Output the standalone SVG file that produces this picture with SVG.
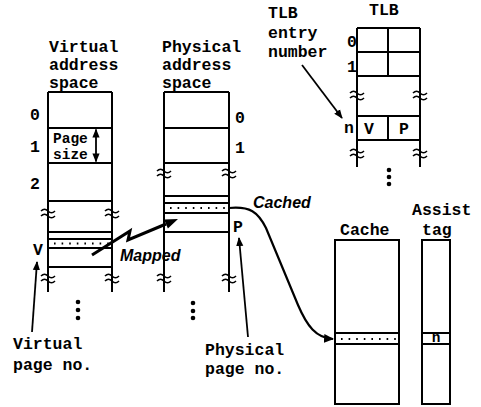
<svg xmlns="http://www.w3.org/2000/svg" width="481" height="407" viewBox="0 0 481 407">
<style>
.bx{fill:none;stroke:#000;stroke-width:2}
.t{font-family:"Liberation Mono","Courier New",monospace;font-size:16.5px;font-weight:bold;fill:#000}
.s{font-size:14.5px}
.it{font-family:"Liberation Sans",Arial,sans-serif;font-size:16px;font-weight:bold;font-style:italic;fill:#000}
.dots{stroke:#000;stroke-width:2;stroke-dasharray:1.6 6;fill:none}
.sq{fill:none;stroke:#000;stroke-width:1.6}
.ar{fill:none;stroke:#000;stroke-width:1.8}
</style>
<defs>
<path id="sq" class="sq" d="M-7,-2 q3.5,-3.5 7,0 t7,0 M-7,3 q3.5,-3.5 7,0 t7,0"/>
<marker id="ah" viewBox="0 0 10 10" refX="9" refY="5" markerWidth="5" markerHeight="5" orient="auto-start-reverse" markerUnits="strokeWidth">
<path d="M0,1 L10,5 L0,9 z" fill="#000"/>
</marker>
<marker id="ahb" viewBox="0 0 10 10" refX="9" refY="5" markerWidth="4.5" markerHeight="4.5" orient="auto" markerUnits="strokeWidth">
<path d="M0,0.5 L10,5 L0,9.5 z" fill="#000"/>
</marker>
</defs>

<g id="virtual-space">
<text class="t" x="49" y="52">Virtual</text>
<text class="t" x="49" y="70">address</text>
<text class="t" x="49" y="88">space</text>
<line class="bx" x1="48" y1="92" x2="48" y2="292"/>
<line class="bx" x1="112" y1="92" x2="112" y2="292"/>
<line class="bx" x1="48" y1="92" x2="112" y2="92"/>
<line class="bx" x1="48" y1="128" x2="112" y2="128"/>
<line class="bx" x1="48" y1="163" x2="112" y2="163"/>
<line class="bx" x1="48" y1="201" x2="112" y2="201"/>
<line class="bx" x1="48" y1="232" x2="112" y2="232"/>
<line class="bx" x1="48" y1="239" x2="112" y2="239"/>
<line class="dots" x1="54" y1="243.5" x2="110" y2="243.5"/>
<line class="bx" x1="48" y1="248" x2="112" y2="248"/>
<line class="bx" x1="48" y1="267" x2="112" y2="267"/>
<use href="#sq" x="48" y="213"/><use href="#sq" x="112" y="213"/>
<use href="#sq" x="48" y="278"/><use href="#sq" x="112" y="278"/>
<text class="t" x="30" y="120">0</text>
<text class="t" x="30" y="152">1</text>
<text class="t" x="30" y="189">2</text>
<text class="t" x="33" y="255">V</text>
<text class="t s" x="53" y="143">Page</text>
<text class="t s" x="53" y="159">size</text>
<circle cx="78" cy="302" r="2.3"/><circle cx="78" cy="310" r="2.3"/><circle cx="78" cy="318" r="2.3"/>
</g>

<g id="physical-space">
<text class="t" x="162" y="52">Physical</text>
<text class="t" x="162" y="70">address</text>
<text class="t" x="162" y="88">space</text>
<line class="bx" x1="164" y1="92" x2="164" y2="292"/>
<line class="bx" x1="229" y1="92" x2="229" y2="292"/>
<line class="bx" x1="164" y1="92" x2="229" y2="92"/>
<line class="bx" x1="164" y1="128" x2="229" y2="128"/>
<line class="bx" x1="164" y1="163" x2="229" y2="163"/>
<line class="bx" x1="164" y1="196" x2="229" y2="196"/>
<line class="bx" x1="164" y1="203" x2="229" y2="203"/>
<line class="dots" x1="170" y1="208" x2="227" y2="208"/>
<line class="bx" x1="164" y1="213" x2="229" y2="213"/>
<line class="bx" x1="164" y1="232" x2="229" y2="232"/>
<use href="#sq" x="164" y="173"/><use href="#sq" x="229" y="173"/>
<use href="#sq" x="164" y="278"/><use href="#sq" x="229" y="278"/>
<text class="t" x="235" y="123">0</text>
<text class="t" x="235" y="153">1</text>
<text class="t" x="233" y="232">P</text>
<circle cx="193" cy="303" r="2.3"/><circle cx="193" cy="311" r="2.3"/><circle cx="193" cy="318" r="2.3"/>
</g>

<g id="tlb">
<text class="t" x="369" y="15">TLB</text>
<line class="bx" x1="357" y1="28" x2="357" y2="167"/>
<line class="bx" x1="420" y1="28" x2="420" y2="167"/>
<line class="bx" x1="357" y1="28" x2="420" y2="28"/>
<line class="bx" x1="357" y1="52" x2="420" y2="52"/>
<line class="bx" x1="357" y1="76" x2="420" y2="76"/>
<line class="bx" x1="388" y1="28" x2="388" y2="76"/>
<line class="bx" x1="357" y1="116" x2="420" y2="116"/>
<line class="bx" x1="357" y1="140" x2="420" y2="140"/>
<line class="bx" x1="388" y1="116" x2="388" y2="140"/>
<use href="#sq" x="357" y="95"/><use href="#sq" x="420" y="95"/>
<use href="#sq" x="357" y="153"/><use href="#sq" x="420" y="153"/>
<text class="t" x="347" y="47">0</text>
<text class="t" x="347" y="72">1</text>
<text class="t" x="344" y="133">n</text>
<text class="t" x="369" y="134" text-anchor="middle">V</text>
<text class="t" x="404" y="134" text-anchor="middle">P</text>
<circle cx="389" cy="170" r="2.3"/><circle cx="389" cy="177" r="2.3"/><circle cx="389" cy="184" r="2.3"/>
</g>

<g id="tlb-entry-label">
<text class="t" x="268" y="18">TLB</text>
<text class="t" x="268" y="38">entry</text>
<text class="t" x="268" y="57">number</text>
</g>

<g id="cache">
<text class="t" x="340" y="235">Cache</text>
<rect class="bx" x="335" y="240" width="64" height="164"/>
<line class="bx" x1="335" y1="333" x2="399" y2="333"/>
<line class="bx" x1="335" y1="344" x2="399" y2="344"/>
<line class="dots" x1="341" y1="339" x2="397" y2="339"/>
</g>

<g id="assist-tag">
<text class="t" x="412" y="215">Assist</text>
<text class="t" x="422" y="235">tag</text>
<rect class="bx" x="422" y="240" width="28" height="164"/>
<line class="bx" x1="422" y1="333" x2="450" y2="333"/>
<line class="bx" x1="422" y1="344" x2="450" y2="344"/>
<text class="t s" x="436" y="342" text-anchor="middle">n</text>
</g>

<g id="virtual-page-label">
<text class="t" x="13" y="349">Virtual</text>
<text class="t" x="13" y="370">page no.</text>
</g>

<g id="physical-page-label">
<text class="t" x="205" y="355">Physical</text>
<text class="t" x="205" y="374">page no.</text>
</g>

<g id="connectors">
<line class="ar" x1="96" y1="129.5" x2="96" y2="161.5" marker-start="url(#ah)" marker-end="url(#ah)" stroke-width="1.5"/>
<line class="ar" x1="32" y1="332" x2="37" y2="262" marker-end="url(#ah)"/>
<line class="ar" x1="248" y1="337" x2="239" y2="238" marker-end="url(#ah)"/>
<line class="ar" x1="302" y1="65" x2="342" y2="118" marker-end="url(#ah)"/>
<path d="M92,255 L130,231 L128,240 L166,224" fill="none" stroke="#000" stroke-width="3" stroke-linejoin="miter"/>
<polygon points="178,219 167.9,228.6 164.1,219.4" fill="#000"/>
<text class="it" x="120" y="261">Mapped</text>
<path d="M229,208 C250,206 258,212 266,228 L298,305 C307,326 316,338 333,339" fill="none" stroke="#000" stroke-width="2.2" marker-end="url(#ahb)"/>
<text class="it" x="253" y="208">Cached</text>
</g>
</svg>
